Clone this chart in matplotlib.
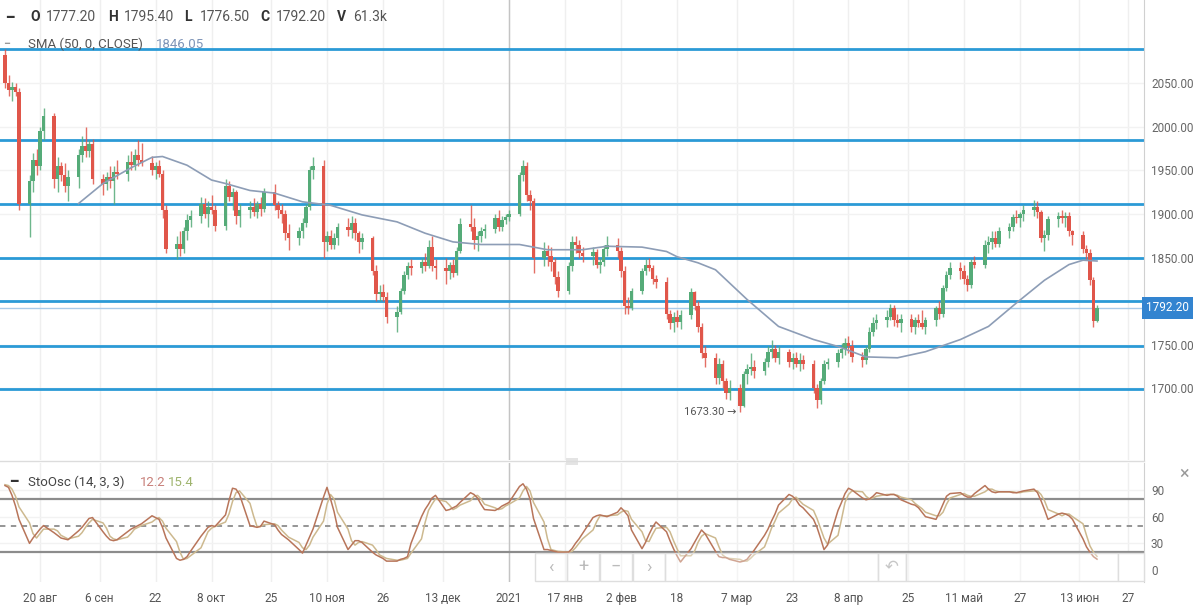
import pandas as pd
import numpy as np
import matplotlib
matplotlib.use('Agg')
import matplotlib.pyplot as plt
import matplotlib.transforms as mtransforms
from matplotlib.patches import Rectangle

plt.rcParams['font.family'] = ['Roboto', 'DejaVu Sans']

# daily candles, Mon-Fri, 10 Aug 2020 .. 18 Jun 2021 (one row = one week)
opens = [
    2082, 2050, 2042, 2046, 2040,
    1912, 1938, 1962, 1955, 1995,
    2012, 1940, 1955, 1945, 1932,
    1942, 1968, 1978, 1972, 1980,
    1940, 1935, 1942, 1938, 1948,
    1946, 1960, 1956, 1968, 1962,
    1958, 1950, 1955, 1946, 1905,
    1860, 1866, 1860, 1880, 1893,
    1898, 1912, 1900, 1908, 1905,
    1886, 1932, 1920, 1925, 1898,
    1905, 1908, 1902, 1912, 1906,
    1925, 1910, 1905, 1900, 1878,
    1872, 1880, 1890, 1908, 1950,
    1955, 1868, 1875, 1865, 1872,
    1885, 1882, 1890, 1878, 1868,
    1872, 1835, 1808, 1810, 1805,
    1782, 1788, 1812, 1830, 1840,
    1838, 1845, 1840, 1862, 1840,
    1838, 1835, 1842, 1832, 1858,
    1888, 1885, 1870, 1875, 1880,
    1883, 1895, 1885, 1893, 1897,
    1900, 1945, 1955, 1922, 1915,
    1850, 1858, 1852, 1845, 1828,
    1812, 1840, 1868, 1865, 1855,
    1852, 1856, 1842, 1845, 1860,
    1865, 1858, 1835, 1795, 1792,
    1812, 1835, 1842, 1838, 1825,
    1822, 1785, 1775, 1782, 1776,
    1784, 1810, 1795, 1770, 1740,
    1735, 1712, 1728, 1708, 1695,
    1700, 1680, 1716, 1722, 1725,
    1720, 1730, 1742, 1745, 1735,
    1742, 1730, 1735, 1728, 1732,
    1728, 1700, 1686, 1708, 1728,
    1730, 1740, 1745, 1752, 1748,
    1736, 1732, 1745, 1765, 1775,
    1778, 1782, 1792, 1778, 1775,
    1780, 1770, 1778, 1775, 1770,
    1778, 1792, 1785, 1815, 1830,
    1838, 1835, 1825, 1818, 1845,
    1842, 1865, 1868, 1872, 1866,
    1880, 1885, 1897, 1895, 1900,
    1905, 1908, 1902, 1872, 1876,
    1894, 1898, 1895, 1898, 1880,
    1876, 1860, 1855, 1824, 1777.2,
]
highs = [
    2089, 2060, 2052, 2050, 2045,
    1945, 1970, 1975, 2000, 2022,
    2016, 1965, 1960, 1958, 1950,
    1975, 1990, 2000, 1985, 1986,
    1946, 1948, 1955, 1955, 1962,
    1968, 1972, 1975, 1985, 1982,
    1966, 1960, 1962, 1950, 1910,
    1875, 1880, 1885, 1900, 1905,
    1920, 1918, 1915, 1922, 1910,
    1940, 1938, 1930, 1928, 1912,
    1915, 1918, 1915, 1920, 1930,
    1935, 1915, 1912, 1905, 1888,
    1885, 1895, 1912, 1955, 1965,
    1962, 1880, 1882, 1878, 1890,
    1895, 1898, 1895, 1880, 1878,
    1875, 1842, 1818, 1820, 1810,
    1795, 1815, 1835, 1845, 1848,
    1850, 1855, 1870, 1875, 1848,
    1850, 1845, 1848, 1862, 1895,
    1910, 1895, 1880, 1885, 1888,
    1900, 1905, 1898, 1900, 1905,
    1948, 1962, 1960, 1928, 1918,
    1868, 1865, 1862, 1850, 1835,
    1845, 1875, 1875, 1870, 1862,
    1862, 1860, 1850, 1865, 1875,
    1872, 1862, 1840, 1805, 1815,
    1838, 1848, 1850, 1842, 1830,
    1828, 1790, 1788, 1790, 1790,
    1815, 1812, 1800, 1775, 1748,
    1740, 1735, 1732, 1712, 1710,
    1705, 1720, 1728, 1740, 1732,
    1735, 1748, 1755, 1750, 1748,
    1745, 1740, 1742, 1740, 1738,
    1732, 1705, 1712, 1732, 1735,
    1745, 1752, 1758, 1760, 1755,
    1742, 1748, 1770, 1782, 1785,
    1790, 1797, 1796, 1785, 1785,
    1785, 1782, 1785, 1790, 1782,
    1795, 1800, 1818, 1835, 1845,
    1845, 1842, 1830, 1848, 1852,
    1870, 1875, 1880, 1880, 1885,
    1890, 1900, 1905, 1902, 1910,
    1916, 1915, 1905, 1882, 1898,
    1902, 1905, 1902, 1902, 1882,
    1880, 1865, 1860, 1828, 1795.4,
]
lows = [
    2045, 2035, 2030, 2035, 1905,
    1874, 1925, 1945, 1950, 1985,
    1930, 1925, 1938, 1925, 1915,
    1930, 1960, 1965, 1965, 1935,
    1922, 1928, 1930, 1912, 1940,
    1938, 1950, 1950, 1955, 1955,
    1945, 1940, 1942, 1895, 1855,
    1848, 1852, 1855, 1870, 1885,
    1890, 1895, 1885, 1900, 1880,
    1882, 1915, 1905, 1888, 1885,
    1895, 1898, 1895, 1898, 1902,
    1905, 1895, 1890, 1870, 1859,
    1865, 1872, 1885, 1905, 1940,
    1850, 1858, 1860, 1860, 1865,
    1875, 1872, 1870, 1855, 1860,
    1830, 1800, 1800, 1800, 1775,
    1765, 1785, 1808, 1825, 1830,
    1832, 1835, 1838, 1835, 1825,
    1820, 1825, 1828, 1830, 1855,
    1880, 1860, 1858, 1868, 1872,
    1878, 1880, 1880, 1888, 1892,
    1898, 1938, 1915, 1905, 1832,
    1840, 1840, 1835, 1820, 1805,
    1808, 1835, 1855, 1850, 1845,
    1842, 1838, 1832, 1840, 1852,
    1850, 1828, 1785, 1785, 1790,
    1808, 1830, 1835, 1820, 1815,
    1780, 1768, 1765, 1770, 1768,
    1780, 1790, 1765, 1735, 1725,
    1705, 1705, 1700, 1688, 1686,
    1673.3, 1678, 1705, 1715, 1712,
    1715, 1725, 1735, 1730, 1728,
    1725, 1722, 1725, 1720, 1722,
    1695, 1677, 1682, 1705, 1722,
    1725, 1735, 1738, 1740, 1730,
    1725, 1728, 1742, 1760, 1768,
    1770, 1778, 1772, 1770, 1765,
    1765, 1762, 1770, 1768, 1762,
    1772, 1780, 1782, 1812, 1825,
    1825, 1820, 1812, 1815, 1838,
    1838, 1855, 1860, 1862, 1862,
    1872, 1880, 1890, 1885, 1892,
    1898, 1895, 1868, 1858, 1870,
    1885, 1890, 1885, 1875, 1865,
    1855, 1848, 1818, 1770, 1776.5,
]
closes = [
    2050, 2042, 2046, 2040, 1912,
    1938, 1962, 1955, 1995, 2012,
    1940, 1955, 1945, 1932, 1942,
    1968, 1978, 1972, 1980, 1940,
    1935, 1942, 1938, 1948, 1946,
    1960, 1956, 1968, 1962, 1958,
    1950, 1955, 1946, 1905, 1860,
    1866, 1860, 1880, 1893, 1898,
    1912, 1900, 1908, 1905, 1886,
    1932, 1920, 1925, 1898, 1905,
    1908, 1902, 1912, 1906, 1925,
    1910, 1905, 1900, 1878, 1872,
    1880, 1890, 1908, 1950, 1955,
    1868, 1875, 1865, 1872, 1885,
    1882, 1890, 1878, 1868, 1872,
    1835, 1808, 1810, 1805, 1782,
    1788, 1812, 1830, 1840, 1838,
    1845, 1840, 1862, 1840, 1838,
    1835, 1842, 1832, 1858, 1888,
    1885, 1870, 1875, 1880, 1883,
    1895, 1885, 1893, 1897, 1900,
    1945, 1955, 1922, 1915, 1850,
    1858, 1852, 1845, 1828, 1812,
    1840, 1868, 1865, 1855, 1852,
    1856, 1842, 1845, 1860, 1865,
    1858, 1835, 1795, 1792, 1812,
    1835, 1842, 1838, 1825, 1822,
    1785, 1775, 1782, 1776, 1784,
    1810, 1795, 1770, 1740, 1735,
    1712, 1728, 1708, 1695, 1700,
    1680, 1716, 1722, 1725, 1720,
    1730, 1742, 1745, 1735, 1742,
    1730, 1735, 1728, 1732, 1728,
    1700, 1686, 1708, 1728, 1730,
    1740, 1745, 1752, 1748, 1736,
    1732, 1745, 1765, 1775, 1778,
    1782, 1792, 1778, 1775, 1780,
    1770, 1778, 1775, 1770, 1778,
    1792, 1785, 1815, 1830, 1838,
    1835, 1825, 1818, 1845, 1842,
    1865, 1868, 1872, 1866, 1880,
    1885, 1897, 1895, 1900, 1905,
    1908, 1902, 1872, 1876, 1894,
    1898, 1895, 1898, 1880, 1876,
    1860, 1855, 1824, 1777.2, 1792.2,
]

# stochastic oscillator %K and %D per candle
stoch_k = [
    95, 93, 84, 72, 57,
    30, 36, 41, 46, 50,
    42, 39, 36, 35, 34,
    44, 48, 53, 58, 59,
    43, 38, 34, 33, 34,
    43, 46, 48, 50, 52,
    61, 59, 57, 48, 36,
    13, 11, 12, 15, 21,
    38, 43, 48, 50, 49,
    62, 78, 92, 91, 85,
    50, 49, 48, 49, 55,
    51, 45, 40, 37, 34,
    23, 19, 28, 37, 46,
    82, 93, 80, 66, 48,
    23, 28, 33, 33, 31,
    20, 17, 15, 13, 10,
    10, 12, 13, 15, 30,
    60, 68, 74, 81, 84,
    67, 68, 70, 72, 76,
    87, 85, 81, 74, 68,
    67, 69, 72, 74, 76,
    94, 97, 91, 80, 58,
    23, 23, 22, 21, 20,
    20, 24, 30, 35, 41,
    59, 61, 62, 61, 60,
    65, 70, 66, 61, 45,
    24, 31, 40, 48, 54,
    43, 33, 24, 16, 9,
    24, 31, 38, 45, 41,
    21, 15, 14, 14, 12,
    9, 10, 12, 17, 22,
    39, 46, 55, 63, 73,
    85, 83, 79, 73, 70,
    57, 48, 36, 23, 28,
    67, 76, 86, 92, 90,
    81, 79, 80, 83, 87,
    84, 85, 85, 83, 79,
    74, 73, 70, 65, 60,
    57, 65, 74, 83, 86,
    87, 84, 82, 82, 86,
    95, 91, 88, 87, 88,
    88, 87, 87, 88, 89,
    91, 87, 78, 68, 57,
    63, 64, 63, 61, 57,
    35, 26, 20, 15, 12.2,
]
stoch_d = [
    96, 95, 91, 83, 71,
    53, 41, 36, 41, 46,
    46, 44, 39, 37, 35,
    38, 42, 48, 53, 57,
    53, 47, 38, 35, 34,
    37, 41, 46, 48, 50,
    54, 57, 59, 55, 47,
    32, 20, 12, 13, 16,
    25, 34, 43, 47, 49,
    54, 63, 77, 87, 89,
    75, 61, 49, 49, 51,
    52, 50, 45, 41, 37,
    31, 25, 23, 28, 37,
    55, 74, 85, 80, 65,
    46, 33, 28, 31, 32,
    28, 23, 17, 15, 13,
    11, 11, 12, 13, 19,
    35, 53, 67, 74, 80,
    77, 73, 68, 70, 73,
    78, 83, 84, 80, 74,
    70, 68, 69, 72, 74,
    81, 89, 94, 89, 76,
    54, 35, 23, 22, 21,
    20, 21, 25, 30, 35,
    45, 54, 61, 61, 61,
    62, 65, 67, 66, 57,
    43, 33, 32, 40, 47,
    48, 43, 33, 24, 16,
    16, 21, 31, 38, 41,
    36, 26, 17, 14, 13,
    12, 10, 10, 13, 17,
    26, 36, 47, 55, 64,
    74, 80, 82, 78, 74,
    67, 58, 47, 36, 29,
    39, 57, 76, 85, 89,
    88, 83, 80, 81, 83,
    85, 85, 85, 84, 82,
    79, 75, 72, 69, 65,
    61, 61, 65, 74, 81,
    85, 86, 84, 83, 83,
    88, 91, 91, 89, 88,
    88, 88, 87, 87, 88,
    89, 89, 85, 78, 68,
    63, 61, 63, 63, 60,
    52, 39, 27, 20, 15.4,
]

# SMA(50)
sma_dates = ['2020-08-31', '2020-09-07', '2020-09-15', '2020-09-21', '2020-09-24',
             '2020-10-01', '2020-10-08', '2020-10-12', '2020-10-19', '2020-10-26',
             '2020-11-03', '2020-11-11', '2020-11-20', '2020-11-30', '2020-12-08',
             '2020-12-16', '2020-12-24', '2021-01-04', '2021-01-12', '2021-01-22',
             '2021-01-29', '2021-02-08', '2021-02-15', '2021-02-18', '2021-02-24',
             '2021-03-01', '2021-03-10', '2021-03-19', '2021-03-29', '2021-04-05',
             '2021-04-13', '2021-04-22', '2021-04-30', '2021-05-10', '2021-05-18',
             '2021-05-26', '2021-06-03', '2021-06-10', '2021-06-14', '2021-06-18']
sma_values = [1912, 1935, 1953, 1965, 1966, 1956, 1939, 1935, 1927, 1924,
              1914, 1910, 1899, 1891, 1878, 1868, 1865, 1865, 1859, 1859,
              1863, 1862, 1857, 1851, 1844, 1836, 1802, 1771, 1756, 1748,
              1736, 1735, 1742, 1756, 1771, 1798, 1824, 1842, 1847, 1846.05]

levels = [2089, 1985, 1911, 1850, 1800, 1748, 1699]
last_price = 1792.2
low_price = 1673.3
low_date = '2021-03-08'

price_ticks = [1700, 1750, 1850, 1900, 1950, 2000, 2050]
stoch_ticks = [0, 30, 60, 90]
date_ticks = ['2020-08-20', '2020-09-06', '2020-09-22', '2020-10-08', '2020-10-25',
              '2020-11-10', '2020-11-26', '2020-12-13', '2021-01-01', '2021-01-17',
              '2021-02-02', '2021-02-18', '2021-03-07', '2021-03-23', '2021-04-08',
              '2021-04-25', '2021-05-11', '2021-05-27', '2021-06-13', '2021-06-27']
date_labels = ['20 авг', '6 сен', '22', '8 окт', '25', '10 ноя', '26', '13 дек', '2021',
               '17 янв', '2 фев', '18', '7 мар', '23', '8 апр', '25', '11 май', '27',
               '13 июн', '27']

dates = pd.bdate_range('2020-08-10', '2021-06-18')
o = np.array(opens, float)
h = np.array(highs, float)
l = np.array(lows, float)
c = np.array(closes, float)

W, H = 1200, 607
fig = plt.figure(figsize=(12, 6.07), dpi=100)
fig.patch.set_facecolor('white')

right = 1144 / W
ax = fig.add_axes([0, 1 - 460 / H, right, 460 / H])
axs = fig.add_axes([0, 1 - 582 / H, right, (582 - 463) / H])

x0 = pd.Timestamp('2020-08-20') - pd.Timedelta(days=40 / 3.5)
x1 = pd.Timestamp('2020-08-20') + pd.Timedelta(days=1104 / 3.5)
tick_dt = pd.to_datetime(date_ticks)

for a in (ax, axs):
    a.set_xlim(x0, x1)
    a.set_facecolor('white')
    for t in tick_dt:
        a.axvline(t, color='#efefef', lw=1, zorder=0)
    a.axvline(pd.Timestamp('2021-01-01'), color='#c4c4c4', lw=1, zorder=1)
    for s in ('left', 'top', 'bottom'):
        a.spines[s].set_visible(False)
    a.spines['right'].set_color('#d0d0d0')
    a.yaxis.tick_right()
    a.tick_params(axis='y', length=0, pad=5, labelsize=8.5, labelcolor='#666666')

# price pane
ax.set_ylim(1617.7, 2145.6)
for p in price_ticks + [1800]:
    ax.axhline(p, color='#f2f2f2', lw=1, zorder=0)
ax.set_yticks(price_ticks)
ax.set_yticklabels(['%.2f' % p for p in price_ticks])
ax.set_xticks([])

for lv in levels:
    ax.axhline(lv, color='#2b9ad6', lw=2, zorder=2)
ax.axhline(last_price, color='#a9cbe9', lw=1, zorder=2)

up = c >= o
colors = np.where(up, '#55ab78', '#e0564a')
ax.vlines(dates, l, h, colors=colors, lw=1.0, alpha=0.85, zorder=3)
body = np.maximum(np.abs(c - o), 0.8)
ax.bar(dates, body, bottom=np.minimum(o, c), width=0.9, color=colors, lw=0, zorder=4)

ax.plot(pd.to_datetime(sma_dates), sma_values, color='#8d9db6', lw=1.2, zorder=5)

ax.text(pd.Timestamp(low_date) - pd.Timedelta(days=1), low_price, '1673.30 \u2192',
        ha='right', va='center', fontsize=8, color='#555555', zorder=6)

trans = mtransforms.blended_transform_factory(ax.transAxes, ax.transData)
ax.text(1.0 + 2 / 1144, last_price, '1792.20', transform=trans, ha='left', va='center',
        fontsize=8.5, color='white', clip_on=False, zorder=10,
        bbox=dict(boxstyle='square,pad=0.35', fc='#3384d0', ec='none'))

# stochastic pane
axs.set_ylim(-13.5, 120.4)
for v in stoch_ticks[1:]:
    axs.axhline(v, color='#f2f2f2', lw=1, zorder=0)
axs.axhline(80, color='#8c8c8c', lw=1.6, zorder=2)
axs.axhline(20, color='#8c8c8c', lw=1.6, zorder=2)
axs.axhline(50, color='#8c8c8c', lw=1.3, ls=(0, (3, 3)), zorder=2)
axs.plot(dates, stoch_d, color='#cdb98f', lw=1.1, zorder=3)
axs.plot(dates, stoch_k, color='#b8755a', lw=1.1, zorder=4)
axs.set_yticks(stoch_ticks)
axs.set_yticklabels([str(v) for v in stoch_ticks])
axs.set_xticks(tick_dt)
axs.set_xticklabels(date_labels)
axs.tick_params(axis='x', length=0, pad=7, labelsize=8.5, labelcolor='#555555')

# navigation buttons overlay
def px_box(x, y, w, hh, fill=True):
    r = Rectangle((x / W, 1 - (y + hh) / H), w / W, hh / H, transform=fig.transFigure,
                  fc='white' if fill else (1, 1, 1, 0.35), ec='#dedede', lw=1, zorder=20)
    fig.patches.append(r)

for bx, sym in zip([535, 567, 600, 633], ['\u2039', '+', '\u2212', '\u203a']):
    px_box(bx, 553, 32, 28, fill=False)
    fig.text((bx + 16) / W, 1 - 567 / H, sym, ha='center', va='center', fontsize=13,
             color='#bbbbbb', zorder=21)
px_box(665, 553, 213, 28, fill=False)
px_box(878, 553, 28, 28, fill=False)
fig.text(892 / W, 1 - 567 / H, '\u21b6', ha='center', va='center', fontsize=12, color='#aaaaaa')
px_box(906, 553, 212, 28, fill=False)
px_box(1118, 553, 26, 28, fill=True)
fig.text(1131 / W, 1 - 567 / H, '\u21b6', ha='center', va='center', fontsize=12, color='#aaaaaa')
fig.text(1184 / W, 1 - 474 / H, '\u00d7', ha='center', va='center', fontsize=13, color='#999999')

# pane divider
fig.add_artist(plt.Line2D([0, right], [1 - 461 / H, 1 - 461 / H], transform=fig.transFigure,
                          color='#dcdcdc', lw=1))
fig.patches.append(Rectangle((566 / W, 1 - 465 / H), 12 / W, 7 / H, transform=fig.transFigure,
                             fc='#e4e4e4', ec='none'))

# header texts
def ftxt(x, y, s, **kw):
    fig.text(x / W, 1 - y / H, s, va='center', ha='left', **kw)

ftxt(6, 17, '\u2501', fontsize=9, color='#333333')
hdr = [(30, 'O', '1777.20'), (108, 'H', '1795.40'), (184, 'L', '1776.50'),
       (260, 'C', '1792.20'), (337, 'V', '61.3k')]
for hx, lab, val in hdr:
    ftxt(hx, 17, lab, fontsize=10, color='#333333', fontweight='bold')
    ftxt(hx + 16, 17, val, fontsize=10, color='#555555')
ftxt(4, 44, '\u2501', fontsize=6, color='#999999')
ftxt(28, 44, 'SMA (50, 0, CLOSE)', fontsize=9.5, color='#555555')
ftxt(156, 44, '1846.05', fontsize=9.5, color='#7f95b8')

ftxt(10, 482, '\u2501', fontsize=9, color='#333333')
ftxt(28, 482, 'StoOsc (14, 3, 3)', fontsize=9.5, color='#444444')
ftxt(140, 482, '12.2', fontsize=9.5, color='#c8807a')
ftxt(168, 482, '15.4', fontsize=9.5, color='#9fb46e')

fig.savefig('out.png', dpi=100, facecolor='white')
